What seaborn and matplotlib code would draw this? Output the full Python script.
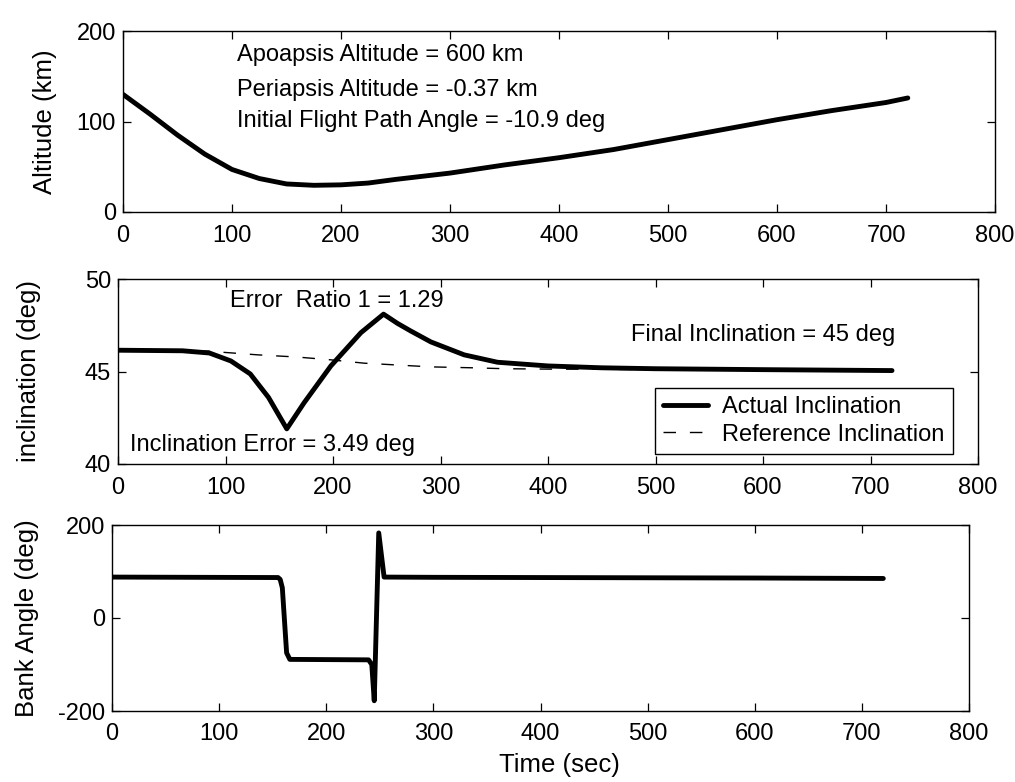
import matplotlib
matplotlib.use("Agg")
import matplotlib.pyplot as plt
import seaborn as sns
import pandas as pd

# ---------------- data ----------------
time_alt = [0, 25, 50, 75, 100, 125, 150, 175, 200, 225, 250, 300, 350, 400, 450, 500, 550, 600, 650, 700, 720]
altitude = [130, 108, 85, 64, 47, 37, 31, 29.5, 30, 32, 36, 43, 52, 60, 69, 80, 91, 102, 112, 121, 126]

time_inc = [0, 60, 85, 105, 123, 140, 157, 173, 198, 226, 247, 260, 272, 291, 322, 353, 400, 450, 500, 600, 720]
inc_actual = [46.15, 46.12, 46.0, 45.57, 44.87, 43.6, 41.9, 43.3, 45.3, 47.1, 48.1, 47.6, 47.2, 46.6,
              45.9, 45.5, 45.3, 45.2, 45.15, 45.1, 45.05]

time_ref = [0, 85, 95, 130, 167, 198, 229, 260, 291, 330, 360, 400, 450, 500, 600, 720]
inc_reference = [46.15, 46.1, 46.05, 45.9, 45.78, 45.63, 45.45, 45.35, 45.25, 45.2, 45.15, 45.13,
                 45.12, 45.1, 45.07, 45.04]

time_bank = [0, 155, 157, 159, 163, 166, 239.5, 242.5, 244.8, 249, 254, 300, 400, 500, 600, 720]
bank_angle = [88, 87, 83, 65, -75, -89, -90, -100, -178, 183, 88, 87.5, 87, 86.5, 86, 85]

x_ticks = [0, 100, 200, 300, 400, 500, 600, 700, 800]
alt_ticks = [0, 100, 200]
inc_ticks = [40, 45, 50]
bank_ticks = [-200, 0, 200]

alt_notes = ["Apoapsis Altitude = 600 km",
             "Periapsis Altitude = -0.37 km",
             "Initial Flight Path Angle = -10.9 deg"]
inc_notes = ["Error  Ratio 1 = 1.29",
             "Final Inclination = 45 deg",
             "Inclination Error = 3.49 deg"]

# ---------------- style ----------------
sns.set_theme(style="ticks")
plt.rcParams["font.family"] = ["Liberation Sans", "DejaVu Sans"]
FS = 17
LFS = 18.5
plt.rcParams.update({
    "axes.linewidth": 1.0,
    "axes.edgecolor": "black",
    "xtick.color": "black",
    "ytick.color": "black",
    "text.color": "black",
    "axes.labelcolor": "black",
})

fig = plt.figure(figsize=(10.15, 7.82), dpi=100)
W, H = 1015, 782


def add_ax(left, right, top, bottom):
    return fig.add_axes([left / W, 1 - bottom / H, (right - left) / W, (bottom - top) / H])


ax1 = add_ax(123, 995, 31, 212)
ax2 = add_ax(118, 978, 279, 464)
ax3 = add_ax(112, 969, 525, 711)

LW = 3.5

df_alt = pd.DataFrame({"t": time_alt, "alt": altitude})
sns.lineplot(data=df_alt, x="t", y="alt", ax=ax1, color="black", linewidth=LW, errorbar=None)

df_inc = pd.DataFrame({"t": time_inc, "inc": inc_actual})
df_ref = pd.DataFrame({"t": time_ref, "inc": inc_reference})
sns.lineplot(data=df_ref, x="t", y="inc", ax=ax2, color="black", linewidth=1.0,
             linestyle=(0, (9, 10)), errorbar=None, label="Reference Inclination")
sns.lineplot(data=df_inc, x="t", y="inc", ax=ax2, color="black", linewidth=LW,
             errorbar=None, label="Actual Inclination")

df_bank = pd.DataFrame({"t": time_bank, "bank": bank_angle})
sns.lineplot(data=df_bank, x="t", y="bank", ax=ax3, color="black", linewidth=LW, errorbar=None)

for ax, yt in ((ax1, alt_ticks), (ax2, inc_ticks), (ax3, bank_ticks)):
    ax.set_xlim(0, 800)
    ax.set_ylim(yt[0], yt[-1])
    ax.set_xticks(x_ticks)
    ax.set_yticks(yt)
    ax.set_xticklabels([str(v) for v in x_ticks])
    ax.set_yticklabels([str(v) for v in yt])
    ax.tick_params(direction="in", top=True, right=True, length=6, width=0.9,
                   labelsize=FS)
    ax.tick_params(axis="x", pad=9)
    ax.tick_params(axis="y", pad=5)
    for s in ax.spines.values():
        s.set_visible(True)
        s.set_linewidth(1.0)
        s.set_color("black")
    ax.set_xlabel("")
    ax.grid(False)

ax1.set_ylabel("Altitude (km)", fontsize=LFS, va="center")
ax1.yaxis.set_label_coords(-0.09, 0.5)
ax2.set_ylabel("inclination (deg)", fontsize=LFS, va="center")
ax2.yaxis.set_label_coords(-0.103, 0.5)
ax3.set_ylabel("Bank Angle (deg)", fontsize=LFS, va="center")
ax3.yaxis.set_label_coords(-0.099, 0.5)
ax3.set_xlabel("Time (sec)", fontsize=LFS, va="center")
ax3.xaxis.set_label_coords(0.522, -0.291)

# annotations
for txt, yv in zip(alt_notes, [174, 135, 100.5]):
    ax1.text(105, yv, txt, fontsize=FS, ha="left", va="center")

ax2.text(104, 48.8, inc_notes[0], fontsize=FS, ha="left", va="center")
ax2.text(477, 46.96, inc_notes[1], fontsize=FS, ha="left", va="center")
ax2.text(11.5, 41.05, inc_notes[2], fontsize=FS, ha="left", va="center")

handles, labels = ax2.get_legend_handles_labels()
order = [labels.index("Actual Inclination"), labels.index("Reference Inclination")]
leg = ax2.legend([handles[i] for i in order], [labels[i] for i in order],
                 loc="lower right", bbox_to_anchor=(0.971, 0.054), borderaxespad=0,
                 fontsize=FS, frameon=True, fancybox=False, framealpha=1,
                 edgecolor="black", handlelength=1.9, handletextpad=0.6,
                 labelspacing=0.25, borderpad=0.35)
leg.get_frame().set_linewidth(1.0)

fig.savefig("out.png", dpi=100, facecolor="white")
